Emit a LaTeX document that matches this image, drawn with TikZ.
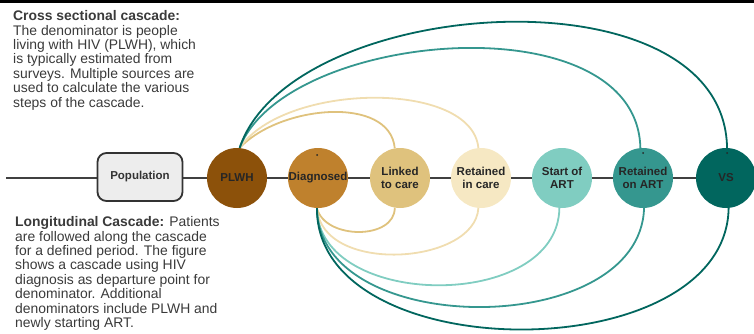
\documentclass[tikz,border=0pt]{standalone}
\usepackage{fontspec}
\setmainfont{Liberation Sans}
\usetikzlibrary{backgrounds,calc}

% BrBG palette for the cascade steps
\definecolor{cPLWH}{HTML}{8C510A}
\definecolor{cDiag}{HTML}{BF812D}
\definecolor{cLink}{HTML}{DFC27D}
\definecolor{cRetC}{HTML}{F6E8C3}
\definecolor{cRetCline}{HTML}{F0DDB0}
\definecolor{cStart}{HTML}{80CDC1}
\definecolor{cRetA}{HTML}{35978F}
\definecolor{cVS}{HTML}{01665E}
\definecolor{txt}{HTML}{3A3A3A}
\definecolor{boxfill}{HTML}{EDEDED}

\begin{document}
\begin{tikzpicture}[x=1pt,y=-1pt,
  stage/.style={circle,minimum size=60pt,inner sep=0pt,align=center,
    font=\fontsize{11.5}{13}\selectfont\bfseries,text=black!85},
  popbox/.style={draw=black!80,line width=1.8pt,rounded corners=9pt,fill=boxfill,
    minimum width=85pt,minimum height=48pt,inner sep=0pt,
    font=\fontsize{11.5}{13}\selectfont\bfseries,text=black!80},
  para/.style={anchor=north west,inner sep=0pt,align=left,text=txt,
    font=\fontsize{13.9}{14.4}\selectfont},
  arc/.style={line width=1.8pt},
  axis/.style={draw=black!75,line width=1.3pt},
  speck/.style={fill=black!85}
]
\useasboundingbox (0,0) rectangle (754,334);
\fill[black] (0,0) rectangle (754,3);

% explanatory paragraphs
\node[para] (cross) at (13,10.5) {\textbf{Cross sectional cascade:}\\
The denominator is people\\
living with HIV (PLWH), which\\
is typically estimated from\\
surveys. Multiple sources are\\
used to calculate the various\\
steps of the cascade.};
\node[para] (longi) at (15,216.5) {\textbf{Longitudinal Cascade:} Patients\\
are followed along the cascade\\
for a defined period. The figure\\
shows a cascade using HIV\\
diagnosis as departure point for\\
denominator. Additional\\
denominators include PLWH and\\
newly starting ART.};

% cascade steps
\coordinate (lineStart) at (6,178);
\node[popbox] (pop) at (140,177) {Population};
\node[stage,fill=cPLWH] (plwh) at (237,178) {PLWH};
\node[stage,fill=cDiag] (diag) at (318,178) {Diagnosed};
\node[stage,fill=cLink] (link) at (400,178) {Linked\\to care};
\node[stage,fill=cRetC] (retc) at (481,178) {Retained\\in care};
\node[stage,fill=cStart] (start) at (562,178) {Start of\\ART};
\node[stage,fill=cRetA] (reta) at (643,178) {Retained\\on ART};
\node[stage,fill=cVS] (vs) at (726,178) {VS};

\begin{scope}[on background layer]
  \draw[axis] (lineStart) -- (vs.west);
  % cross sectional links from PLWH
  \draw[arc,cLink] (plwh.85) .. controls (280,105) and (390,95) .. (link.100);
  \draw[arc,cRetCline] (plwh.85) .. controls (285,82) and (472,80) .. (retc.95);
  \draw[arc,cRetA] (plwh.85) .. controls (285,30) and (637,0) .. (reta.95);
  \draw[arc,cVS] (plwh.85) .. controls (290,-5) and (724,-35) .. (vs.88);
  % longitudinal links from Diagnosed
  \draw[arc,cLink] (diag.268) .. controls (325,240) and (395,240) .. (link.260);
  \draw[arc,cRetCline] (diag.268) .. controls (322,275) and (475,265) .. (retc.265);
  \draw[arc,cStart] (diag.268) .. controls (318,310) and (558,312) .. (start.265);
  \draw[arc,cRetA] (diag.268) .. controls (318,340) and (640,340) .. (reta.272);
  \draw[arc,cVS] (diag.268) .. controls (316,370) and (726,370) .. (vs.275);
\end{scope}

% small marks on the circles
\fill[speck] (317,155) circle (1pt);
\fill[speck] (643,153) circle (1pt);
\fill[speck] (727,153) circle (1pt);
\end{tikzpicture}
\end{document}
